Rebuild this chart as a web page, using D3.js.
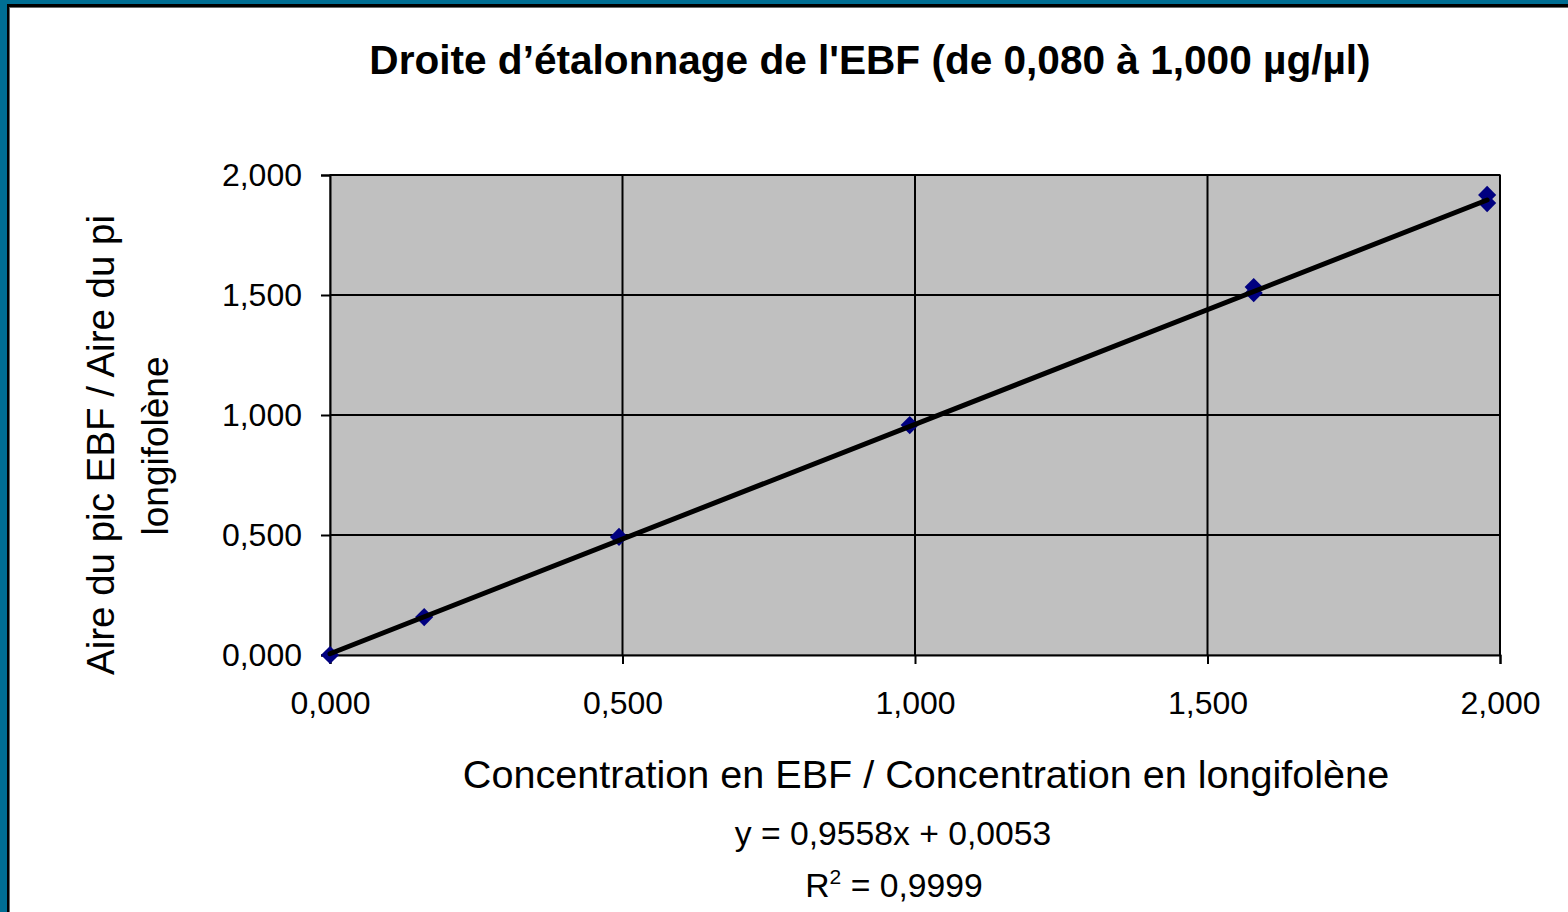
<!DOCTYPE html>
<html>
<head>
<meta charset="utf-8">
<script src="https://cdn.jsdelivr.net/npm/d3@7"></script>
<style>
  html, body { margin: 0; padding: 0; background: #ffffff; }
  svg { display: block; font-family: "Liberation Sans", Arial, sans-serif; }
</style>
</head>
<body>
<svg id="chart" width="1568" height="912"></svg>
<script>
// Calibration points: concentration ratio vs. peak area ratio
const concentrationRatio = [0.000, 0.161, 0.494, 0.991, 1.579, 1.579, 1.978, 1.978];
const areaRatio          = [0.000, 0.158, 0.492, 0.958, 1.533, 1.508, 1.917, 1.883];

// Linear regression reported for the series
const slope = 0.9558;
const intercept = 0.0053;
const equationLabel = "y = 0,9558x + 0,0053";
const r2Value = "0,9999";

const xTicks = [0, 0.5, 1.0, 1.5, 2.0];
const yTicks = [0, 0.5, 1.0, 1.5, 2.0];

const titleText = "Droite d\u2019étalonnage de l'EBF (de 0,080 à 1,000 µg/µl)";
const xTitle = "Concentration en EBF / Concentration en longifolène";
const yTitleLines = ["Aire du pic EBF / Aire du pic", "longifolène"];

const svg = d3.select("#chart");
const fmt = v => d3.format(".3f")(v).replace(".", ",");

// Window frame
svg.append("rect").attr("x", 0).attr("y", 0).attr("width", 1568).attr("height", 912).attr("fill", "#006e93");
svg.append("rect").attr("x", 7).attr("y", 4).attr("width", 1561).attr("height", 908).attr("fill", "#000000");
svg.append("rect").attr("x", 9).attr("y", 7).attr("width", 1559).attr("height", 905).attr("fill", "#6a6a6a");
svg.append("rect").attr("x", 10).attr("y", 8).attr("width", 1558).attr("height", 904).attr("fill", "#ffffff");

const plot = { left: 330, right: 1500, top: 175, bottom: 655 };
const x = d3.scaleLinear().domain([0, 2]).range([plot.left, plot.right]);
const y = d3.scaleLinear().domain([0, 2]).range([plot.bottom, plot.top]);

// Plot background
svg.append("rect")
  .attr("x", plot.left).attr("y", plot.top)
  .attr("width", plot.right - plot.left).attr("height", plot.bottom - plot.top)
  .attr("fill", "#c0c0c0").attr("stroke", "#808080").attr("stroke-width", 2);

// Gridlines
svg.append("g").selectAll("line").data(xTicks.slice(1)).join("line")
  .attr("x1", d => x(d)).attr("x2", d => x(d))
  .attr("y1", plot.top).attr("y2", plot.bottom)
  .attr("stroke", "#000").attr("stroke-width", 2);
svg.append("g").selectAll("line").data(yTicks.slice(1)).join("line")
  .attr("x1", plot.left).attr("x2", plot.right)
  .attr("y1", d => y(d)).attr("y2", d => y(d))
  .attr("stroke", "#000").attr("stroke-width", 2);

// Axes
const xAxis = svg.append("g")
  .attr("transform", `translate(0,${plot.bottom})`)
  .call(d3.axisBottom(x).tickValues(xTicks).tickFormat(fmt).tickSizeOuter(0).tickSize(9).tickPadding(27));
const yAxis = svg.append("g")
  .attr("transform", `translate(${plot.left},0)`)
  .call(d3.axisLeft(y).tickValues(yTicks).tickFormat(fmt).tickSizeOuter(0).tickSize(9).tickPadding(19));
[xAxis, yAxis].forEach(g => {
  g.select(".domain").attr("stroke", "#000").attr("stroke-width", 2);
  g.selectAll(".tick line").attr("stroke", "#000").attr("stroke-width", 2);
  g.selectAll(".tick text").attr("fill", "#000")
    .style("font-family", "'Liberation Sans', Arial, sans-serif").style("font-size", "32px");
});
xAxis.selectAll(".tick text").attr("dy", "0.71em");

// Data markers (diamonds)
const diamond = d3.symbol().type(d3.symbolSquare).size(165);
svg.append("g").selectAll("path").data(concentrationRatio.map((c, i) => [c, areaRatio[i]])).join("path")
  .attr("d", diamond)
  .attr("transform", d => `translate(${x(d[0])},${y(d[1])}) rotate(45)`)
  .attr("fill", "#000080");

// Trendline over the data range
const xMax = d3.max(concentrationRatio);
const trend = [0, xMax].map(v => [v, slope * v + intercept]);
svg.append("path")
  .datum(trend)
  .attr("d", d3.line().x(d => x(d[0])).y(d => y(d[1])))
  .attr("fill", "none").attr("stroke", "#000").attr("stroke-width", 5).attr("stroke-linecap", "round");

// Title
svg.append("text")
  .attr("x", 870).attr("y", 74)
  .attr("text-anchor", "middle")
  .style("font-size", "40.6px").style("font-weight", "bold")
  .text(titleText);

// X axis title
svg.append("text")
  .attr("x", 926).attr("y", 788)
  .attr("text-anchor", "middle")
  .style("font-size", "39.6px")
  .text(xTitle);

// Y axis title (two lines, first line clipped by the title box)
svg.append("clipPath").attr("id", "ytitle-clip")
  .append("rect").attr("x", 60).attr("y", 215).attr("width", 140).attr("height", 500);
const yTitle = svg.append("g").attr("clip-path", "url(#ytitle-clip)");
yTitle.append("text")
  .attr("transform", "translate(114,675) rotate(-90)")
  .attr("text-anchor", "start")
  .style("font-size", "38.5px")
  .text(yTitleLines[0]);
svg.append("text")
  .attr("transform", "translate(168,446) rotate(-90)")
  .attr("text-anchor", "middle")
  .style("font-size", "37px")
  .text(yTitleLines[1]);

// Regression equation
svg.append("text")
  .attr("x", 893).attr("y", 845)
  .attr("text-anchor", "middle")
  .style("font-size", "33.7px")
  .text(equationLabel);
const r2 = svg.append("text")
  .attr("x", 894).attr("y", 897)
  .attr("text-anchor", "middle")
  .style("font-size", "33.7px");
r2.append("tspan").text("R");
r2.append("tspan").attr("dy", -13).style("font-size", "21px").text("2");
r2.append("tspan").attr("dy", 13).text(" = " + r2Value);
</script>
</body>
</html>
